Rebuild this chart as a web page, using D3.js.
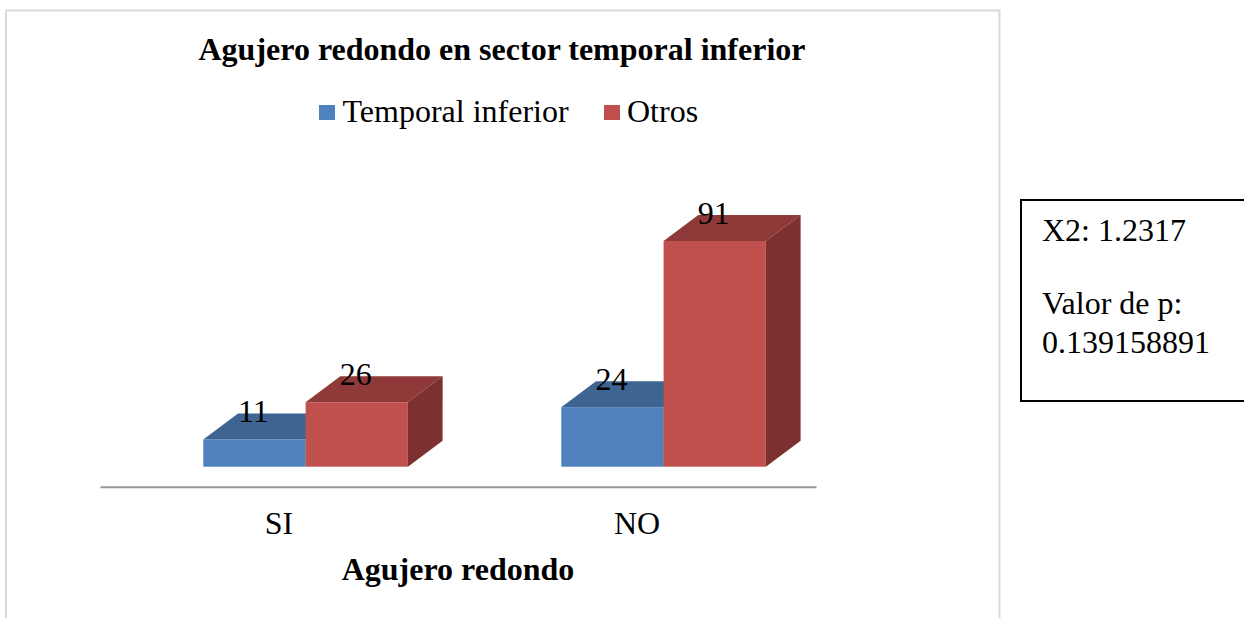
<!DOCTYPE html>
<html>
<head>
<meta charset="utf-8">
<title>Agujero redondo en sector temporal inferior</title>
<script src="https://cdn.jsdelivr.net/npm/d3@7"></script>
<style>
html, body { margin: 0; padding: 0; background: #fff; overflow: hidden; }
text { font-family: "Liberation Serif", "Times New Roman", serif; fill: #000; }
.tick text { font-family: "Liberation Serif", "Times New Roman", serif; }
</style>
</head>
<body>
<div id="chart"></div>
<script>
/* Data */
var categories = ["SI", "NO"];
var seriesNames = ["Temporal inferior", "Otros"];
var temporalInferior = [11, 24];
var otros = [26, 91];
var seriesValues = [temporalInferior, otros];
var noteLines = ["X2: 1.2317", "Valor de p:", "0.139158891"];

var frontColors = ["#4f81bd", "#c0504d"];
var topColors = ["#3e6491", "#8f3a38"];
var sideColors = ["#345478", "#7c3130"];

var width = 1244, height = 618;
var baseY = 466.7, topY = 241;
var barW = 102.3, barOffset = 103.3; // offset of first bar inside the band
var depthX = 34.7, depthY = 26;

var svg = d3.select("#chart").append("svg")
	.attr("width", width)
	.attr("height", height)
	.style("display", "block");

// chart frame, open at the bottom
svg.append("path")
	.attr("d", "M6,618V10.5H999.5V618")
	.attr("fill", "none")
	.attr("stroke", "#d9d9d9")
	.attr("stroke-width", 2);

svg.append("text")
	.attr("x", 502).attr("y", 60)
	.attr("text-anchor", "middle")
	.attr("font-weight", "bold")
	.attr("font-size", 32)
	.text("Agujero redondo en sector temporal inferior");

/* Legend */
var legendSwatchX = [319, 604];
var legend = svg.append("g").selectAll("g")
	.data(seriesNames)
	.enter().append("g")
	.attr("transform", function(d, i) { return "translate(" + legendSwatchX[i] + ",105)"; });
legend.append("rect")
	.attr("width", 16).attr("height", 15)
	.attr("fill", function(d, i) { return frontColors[i]; });
legend.append("text")
	.attr("x", function(d, i) { return i == 0 ? 23.5 : 23; })
	.attr("y", 17)
	.attr("font-size", 32)
	.text(function(d) { return d; });

/* Scales */
var x = d3.scaleBand().domain(categories).range([100, 816]);
var y = d3.scaleLinear().domain([0, 91]).range([baseY, topY]);

/* Bars: one series at a time so the red covers the blue */
seriesNames.forEach(function(name, s) {
	var g = svg.append("g").attr("class", "series");
	var bars = g.selectAll("g")
		.data(seriesValues[s])
		.enter().append("g");

	function left(d, i) { return x(categories[i]) + barOffset + s * barW; }

	bars.append("path")
		.attr("fill", topColors[s])
		.attr("d", function(d, i) {
			var x0 = left(d, i), y0 = y(d);
			return "M" + x0 + "," + y0 + "l" + depthX + "," + (-depthY) + "h" + barW + "l" + (-depthX) + "," + depthY + "Z";
		});
	bars.append("path")
		.attr("fill", sideColors[s])
		.attr("d", function(d, i) {
			var x1 = left(d, i) + barW, y0 = y(d);
			return "M" + x1 + "," + y0 + "l" + depthX + "," + (-depthY) + "V" + (baseY - depthY) + "L" + x1 + "," + baseY + "Z";
		});
	bars.append("rect")
		.attr("fill", frontColors[s])
		.attr("x", left)
		.attr("y", function(d) { return y(d); })
		.attr("width", barW)
		.attr("height", function(d) { return baseY - y(d); });
});

/* Value labels go above all bars */
seriesNames.forEach(function(name, s) {
	svg.append("g").selectAll("text")
		.data(seriesValues[s])
		.enter().append("text")
		.attr("x", function(d, i) { return x(categories[i]) + barOffset + s * barW + barW / 2 - 1; })
		.attr("y", function(d) { return y(d) - 17; })
		.attr("text-anchor", "middle")
		.attr("font-size", 32)
		.text(function(d) { return d; });
});

/* Axis */
var axis = svg.append("g")
	.attr("transform", "translate(0,486.7)")
	.call(d3.axisBottom(x).tickSize(0).tickPadding(25));
axis.select(".domain").attr("stroke", "#989898").attr("stroke-width", 2);
axis.selectAll(".tick text").attr("font-size", 32).attr("fill", "#000");

svg.append("text")
	.attr("x", 458).attr("y", 580)
	.attr("text-anchor", "middle")
	.attr("font-weight", "bold")
	.attr("font-size", 32)
	.text("Agujero redondo");

/* Note box, runs off the right edge */
svg.append("rect")
	.attr("x", 1021).attr("y", 200)
	.attr("width", 240).attr("height", 201)
	.attr("fill", "#fff")
	.attr("stroke", "#000")
	.attr("stroke-width", 2);

var noteY = [241, 314, 353];
svg.append("g").selectAll("text")
	.data(noteLines)
	.enter().append("text")
	.attr("x", 1042)
	.attr("y", function(d, i) { return noteY[i]; })
	.attr("font-size", 32)
	.text(function(d) { return d; });
</script>
</body>
</html>
